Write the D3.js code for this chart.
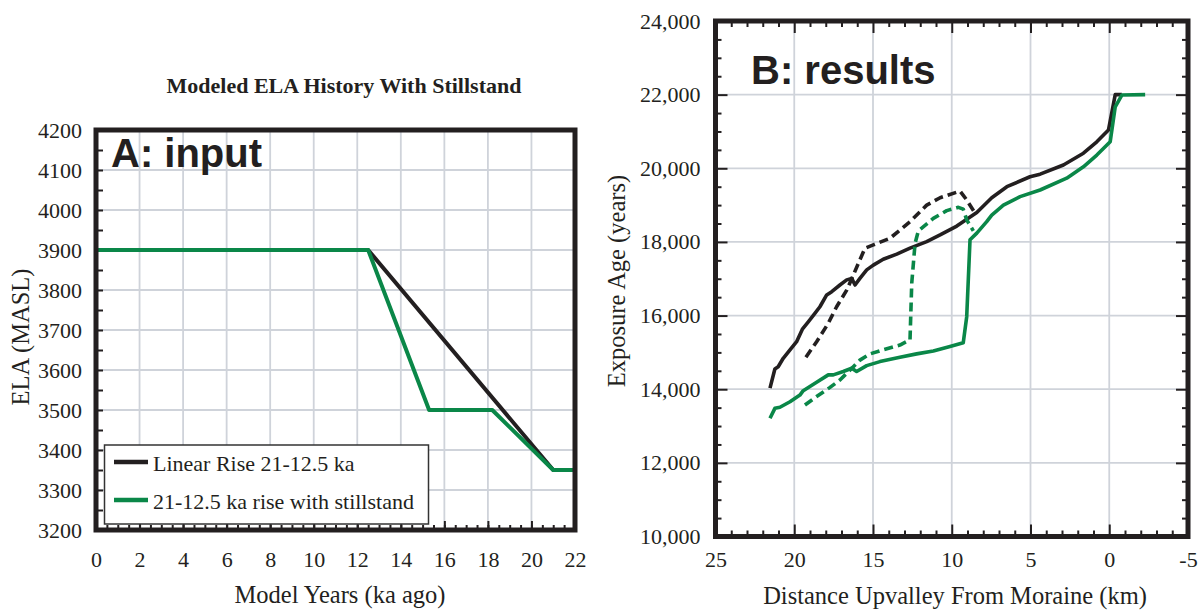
<!DOCTYPE html>
<html>
<head>
<meta charset="utf-8">
<script src="https://cdn.jsdelivr.net/npm/d3@7"></script>
<style>
  body { margin: 0; background: #fff; }
  svg { display: block; }
</style>
</head>
<body>
<svg id="chart" width="1203" height="610"></svg>
<script>
// ---- Panel A: modeled ELA history (ka ago vs. m a.s.l.) ----
const linearRiseKa  = [0, 12.5, 21, 22];
const linearRiseEla = [3900, 3900, 3350, 3350];
const stillstandKa  = [0, 12.5, 15.3, 18.2, 21, 22];
const stillstandEla = [3900, 3900, 3500, 3500, 3350, 3350];
const legendLabels  = ["Linear Rise 21-12.5 ka", "21-12.5 ka rise with stillstand"];
const kaTicks  = [0, 2, 4, 6, 8, 10, 12, 14, 16, 18, 20, 22];
const elaTicks = [3200, 3300, 3400, 3500, 3600, 3700, 3800, 3900, 4000, 4100, 4200];

// ---- Panel B: exposure ages along the valley [distance km, age years] ----
const linearSolid = [
  [21.54,14030],[21.23,14550],[21.02,14610],[20.70,14840],[20.27,15070],[19.85,15290],
  [19.47,15640],[19.11,15830],[18.69,16060],[18.37,16240],[17.94,16560],[17.62,16650],
  [17.10,16830],[16.67,16970],[16.35,17010],[16.14,16830],[15.83,17010],[15.40,17240],
  [14.98,17370],[14.35,17530],[13.49,17670],[12.65,17830],[11.59,18010],[10.74,18190],
  [9.68,18430],[8.41,18800],[7.46,19200],[6.50,19500],[5.03,19770],[4.39,19840],
  [2.91,20090],[1.64,20410],[0.79,20720],[0.05,21040],[-0.38,22000],[-0.80,22000]
];
const linearDashed = [
  [19.26,14870],[18.58,15290],[17.84,15790],[17.31,16240],[16.67,16690],[16.25,17100],
  [15.51,17830],[14.98,17920],[13.92,18100],[12.65,18550],[11.59,19000],[10.74,19200],
  [9.47,19380],[9.05,19140],[8.52,18780]
];
const stillSolid = [
  [21.54,13210],[21.23,13480],[20.91,13510],[20.27,13660],[19.64,13840],[19.43,13960],
  [18.58,14190],[17.84,14390],[17.52,14390],[16.89,14480],[16.35,14570],[16.04,14480],
  [15.40,14640],[14.56,14750],[13.29,14870],[12.23,14960],[11.17,15040],[10.11,15160],
  [9.27,15260],[9.05,15970],[8.84,18060],[8.41,18240],[7.78,18550],[7.46,18730],
  [6.72,19000],[5.66,19230],[4.39,19410],[2.70,19730],[1.64,20040],[0.79,20360],
  [-0.06,20720],[-0.38,21670],[-0.80,21990],[-2.28,22000]
];
const stillDashed = [
  [19.32,13570],[18.58,13800],[17.73,14050],[17.10,14250],[16.25,14610],[15.83,14790],
  [15.19,14960],[14.35,15070],[13.29,15200],[12.65,15340],[12.54,16880],[12.33,17960],
  [12.12,18300],[11.17,18640],[10.32,18850],[9.58,18940],[9.27,18890],[9.05,18600],
  [8.63,18300]
];
const distTicks = [25, 20, 15, 10, 5, 0, -5];
const ageTicks  = [10000, 12000, 14000, 16000, 18000, 20000, 22000, 24000];

// ---- styling ----
const ink = "#231f20";
const green = "#0a8748";
const gridColor = "#cfd3da";
const serif = "'Liberation Serif', 'Times New Roman', serif";
const sans = "'Liberation Sans', Arial, sans-serif";

const svg = d3.select("#chart");

function styleAxis(g, fontSize) {
  g.select(".domain").remove();
  g.selectAll(".tick line").attr("stroke", ink).attr("stroke-width", 2);
  g.selectAll(".tick text").attr("fill", ink)
    .style("font-family", serif).style("font-size", fontSize + "px");
}

// ================= Panel A =================
const xA = d3.scaleLinear().domain([0, 22]).range([96, 575]);
const yA = d3.scaleLinear().domain([3200, 4200]).range([530, 130]);

const gA = svg.append("g");

// grid
gA.append("g").selectAll("line").data(kaTicks.slice(1, -1)).join("line")
  .attr("x1", d => xA(d)).attr("x2", d => xA(d))
  .attr("y1", yA.range()[0]).attr("y2", yA.range()[1])
  .attr("stroke", gridColor).attr("stroke-width", 1.8);
gA.append("g").selectAll("line").data(elaTicks.slice(1, -1)).join("line")
  .attr("y1", d => yA(d)).attr("y2", d => yA(d))
  .attr("x1", xA.range()[0]).attr("x2", xA.range()[1])
  .attr("stroke", gridColor).attr("stroke-width", 1.8);

// axes (ticks point inward)
gA.append("g").attr("transform", `translate(${xA.range()[0]},0)`)
  .call(d3.axisLeft(yA).tickValues(d3.range(3200, 4201, 50))
    .tickSize(-7).tickPadding(14)
    .tickFormat(d => d % 100 === 0 ? String(d) : ""))
  .call(g => styleAxis(g, 22));
gA.append("g").attr("transform", `translate(0,${yA.range()[0]})`)
  .call(d3.axisBottom(xA).tickValues(d3.range(0, 22.01, 0.5))
    .tickSize(-5).tickFormat(""))
  .call(g => styleAxis(g, 22));
gA.append("g").attr("transform", `translate(0,${yA.range()[0]})`)
  .call(d3.axisBottom(xA).tickValues(kaTicks).tickSize(-9).tickPadding(21)
    .tickFormat(d => String(d)))
  .call(g => styleAxis(g, 22));

// lines
const lineA = d3.line().x(d => xA(d[0])).y(d => yA(d[1]));
const linearA = linearRiseKa.map((k, i) => [k, linearRiseEla[i]]);
const stillA = stillstandKa.map((k, i) => [k, stillstandEla[i]]);
gA.append("path").datum(linearA).attr("d", lineA)
  .attr("fill", "none").attr("stroke", ink).attr("stroke-width", 4)
  .attr("stroke-linejoin", "round");
gA.append("path").datum(stillA).attr("d", lineA)
  .attr("fill", "none").attr("stroke", green).attr("stroke-width", 4)
  .attr("stroke-linejoin", "round");

// frame
gA.append("rect")
  .attr("x", xA.range()[0]).attr("y", yA.range()[1])
  .attr("width", xA.range()[1] - xA.range()[0])
  .attr("height", yA.range()[0] - yA.range()[1])
  .attr("fill", "none").attr("stroke", ink).attr("stroke-width", 5);

// legend
const legA = gA.append("g");
legA.append("rect").attr("x", 104.5).attr("y", 445).attr("width", 324).attr("height", 79)
  .attr("fill", "#fff").attr("stroke", "#333").attr("stroke-width", 1.5);
[[ink, 462, 471], [green, 500, 509]].forEach(([c, ly, ty], i) => {
  legA.append("line").attr("x1", 114).attr("x2", 148).attr("y1", ly).attr("y2", ly)
    .attr("stroke", c).attr("stroke-width", 4.5);
  legA.append("text").attr("x", 153).attr("y", ty).text(legendLabels[i])
    .attr("fill", ink).style("font-family", serif).style("font-size", "22px");
});

// labels
gA.append("text").attr("x", 344).attr("y", 93).attr("text-anchor", "middle")
  .text("Modeled ELA History With Stillstand")
  .attr("fill", ink).style("font-family", serif).style("font-weight", "bold").style("font-size", "22px");
gA.append("text").attr("x", 111).attr("y", 167).text("A: input")
  .attr("fill", ink).style("font-family", sans).style("font-weight", "bold").style("font-size", "40px");
gA.append("text").attr("x", 340).attr("y", 603).attr("text-anchor", "middle")
  .text("Model Years (ka ago)")
  .attr("fill", ink).style("font-family", serif).style("font-size", "24.5px");
gA.append("text").attr("transform", "translate(29,337) rotate(-90)").attr("text-anchor", "middle")
  .text("ELA (MASL)")
  .attr("fill", ink).style("font-family", serif).style("font-size", "24.5px");

// ================= Panel B =================
const xB = d3.scaleLinear().domain([25, -5]).range([715.5, 1188]);
const yB = d3.scaleLinear().domain([10000, 24000]).range([536.5, 21]);

const gB = svg.append("g");

gB.append("g").selectAll("line").data(distTicks.slice(1, -1)).join("line")
  .attr("x1", d => xB(d)).attr("x2", d => xB(d))
  .attr("y1", yB.range()[0]).attr("y2", yB.range()[1])
  .attr("stroke", gridColor).attr("stroke-width", 1.8);
gB.append("g").selectAll("line").data(ageTicks.slice(1, -1)).join("line")
  .attr("y1", d => yB(d)).attr("y2", d => yB(d))
  .attr("x1", xB.range()[0]).attr("x2", xB.range()[1])
  .attr("stroke", gridColor).attr("stroke-width", 1.8);

const minorAge = d3.range(10000, 24001, 500).filter(d => d % 2000 !== 0);
const minorDist = d3.range(-5, 25.01, 1).filter(d => d % 5 !== 0);
const fmtAge = d3.format(",");

// left
gB.append("g").attr("transform", `translate(${xB.range()[0]},0)`)
  .call(d3.axisLeft(yB).tickValues(minorAge).tickSize(-6).tickFormat(""))
  .call(g => styleAxis(g, 22));
gB.append("g").attr("transform", `translate(${xB.range()[0]},0)`)
  .call(d3.axisLeft(yB).tickValues(ageTicks).tickSize(-12).tickPadding(15).tickFormat(fmtAge))
  .call(g => styleAxis(g, 22));
// right
gB.append("g").attr("transform", `translate(${xB.range()[1]},0)`)
  .call(d3.axisRight(yB).tickValues(minorAge).tickSize(-6).tickFormat(""))
  .call(g => styleAxis(g, 22));
gB.append("g").attr("transform", `translate(${xB.range()[1]},0)`)
  .call(d3.axisRight(yB).tickValues(ageTicks).tickSize(-12).tickFormat(""))
  .call(g => styleAxis(g, 22));
// bottom
gB.append("g").attr("transform", `translate(0,${yB.range()[0]})`)
  .call(d3.axisBottom(xB).tickValues(minorDist).tickSize(-6).tickFormat(""))
  .call(g => styleAxis(g, 22));
gB.append("g").attr("transform", `translate(0,${yB.range()[0]})`)
  .call(d3.axisBottom(xB).tickValues(distTicks).tickSize(-12).tickPadding(15)
    .tickFormat(d => String(d)))
  .call(g => styleAxis(g, 22));
// top
gB.append("g").attr("transform", `translate(0,${yB.range()[1]})`)
  .call(d3.axisTop(xB).tickValues(minorDist).tickSize(-6).tickFormat(""))
  .call(g => styleAxis(g, 22));
gB.append("g").attr("transform", `translate(0,${yB.range()[1]})`)
  .call(d3.axisTop(xB).tickValues(distTicks).tickSize(-12).tickFormat(""))
  .call(g => styleAxis(g, 22));

// results
const lineB = d3.line().x(d => xB(d[0])).y(d => yB(d[1]));
const seriesB = [
  { data: linearDashed, color: ink,   dash: "9,5" },
  { data: linearSolid,  color: ink,   dash: null },
  { data: stillDashed,  color: green, dash: "9,5" },
  { data: stillSolid,   color: green, dash: null }
];
seriesB.forEach(s => {
  gB.append("path").datum(s.data).attr("d", lineB)
    .attr("fill", "none").attr("stroke", s.color).attr("stroke-width", 3.6)
    .attr("stroke-linejoin", "round")
    .attr("stroke-dasharray", s.dash);
});

// frame
gB.append("rect")
  .attr("x", xB.range()[0]).attr("y", yB.range()[1])
  .attr("width", xB.range()[1] - xB.range()[0])
  .attr("height", yB.range()[0] - yB.range()[1])
  .attr("fill", "none").attr("stroke", ink).attr("stroke-width", 5);

gB.append("text").attr("x", 751).attr("y", 84).text("B: results")
  .attr("fill", ink).style("font-family", sans).style("font-weight", "bold").style("font-size", "40px");
gB.append("text").attr("x", 955).attr("y", 604).attr("text-anchor", "middle")
  .text("Distance Upvalley From Moraine (km)")
  .attr("fill", ink).style("font-family", serif).style("font-size", "24.5px");
gB.append("text").attr("transform", "translate(625,281) rotate(-90)").attr("text-anchor", "middle")
  .text("Exposure Age (years)")
  .attr("fill", ink).style("font-family", serif).style("font-size", "24.5px");
</script>
</body>
</html>
